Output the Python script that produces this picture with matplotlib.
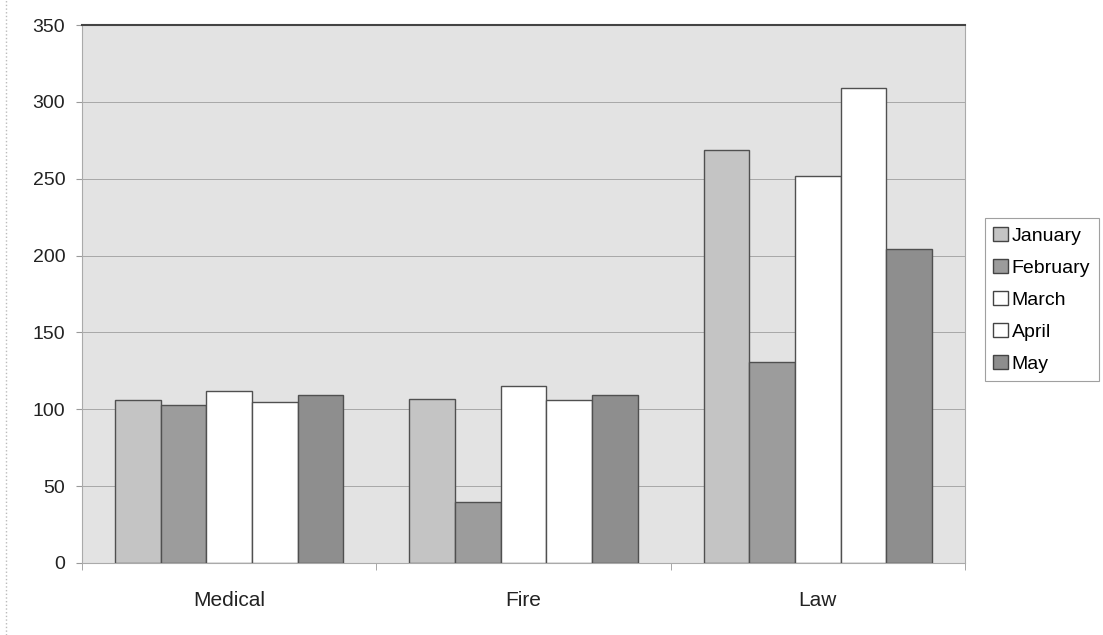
import matplotlib.pyplot as plt
import numpy as np

plt.rcParams['font.family'] = ['Liberation Sans', 'DejaVu Sans']

# monthly call counts per department
categories = ['Medical', 'Fire', 'Law']
months = ['January', 'February', 'March', 'April', 'May']
january = [106, 107, 269]
february = [103, 40, 131]
march = [112, 115, 252]
april = [105, 106, 309]
may = [109, 109, 204]

series = [january, february, march, april, may]
colors = ['#c4c4c4', '#9c9c9c', '#ffffff', '#ffffff', '#8e8e8e']

fig = plt.figure(figsize=(11.03, 6.35), dpi=100)
fig.patch.set_facecolor('white')
ax = fig.add_axes([0.0743, 0.1134, 0.8007, 0.8472])
ax.set_facecolor('#e3e3e3')

x = np.arange(len(categories))
w = 0.155
for i, (vals, c) in enumerate(zip(series, colors)):
    ax.bar(x + (i - 2) * w, vals, width=w, color=c, edgecolor='#505050',
           linewidth=1.0, label=months[i], zorder=3)

ax.set_xlim(-0.5, 2.5)
ax.set_ylim(0, 350)
ax.set_yticks(range(0, 351, 50))
ax.yaxis.grid(True, color='#a8a8a8', linewidth=0.7, zorder=0)
ax.set_xticks(x)
ax.set_xticklabels(categories, fontsize=15, color='#222222')
ax.tick_params(axis='x', length=0, pad=20)
ax.tick_params(axis='y', length=4, color='#999999', labelsize=14,
               labelcolor='#222222', pad=8)
# category separators on the x axis
ax.set_xticks([-0.5, 0.5, 1.5, 2.5], minor=True)
ax.tick_params(axis='x', which='minor', length=5, color='#999999')

for side in ['left', 'bottom', 'right']:
    ax.spines[side].set_color('#aaaaaa')
    ax.spines[side].set_linewidth(0.8)
ax.spines['top'].set_color('#444444')
ax.spines['top'].set_linewidth(1.5)

leg = ax.legend(loc='center left', bbox_to_anchor=(1.022, 0.489),
                fontsize=14, frameon=True, fancybox=False,
                handlelength=0.75, handleheight=0.75, handletextpad=0.2,
                labelspacing=0.72, borderpad=0.45, borderaxespad=0)
leg.get_frame().set_edgecolor('#888888')
leg.get_frame().set_linewidth(0.8)
for h in leg.legend_handles:
    h.set_edgecolor('#444444')

# scan edge on the left
fig.add_artist(plt.Line2D([0.005, 0.005], [0.0, 1.0], color='#bbbbbb',
                          linewidth=1.0, linestyle=':'))

fig.savefig('out.png', dpi=100)
